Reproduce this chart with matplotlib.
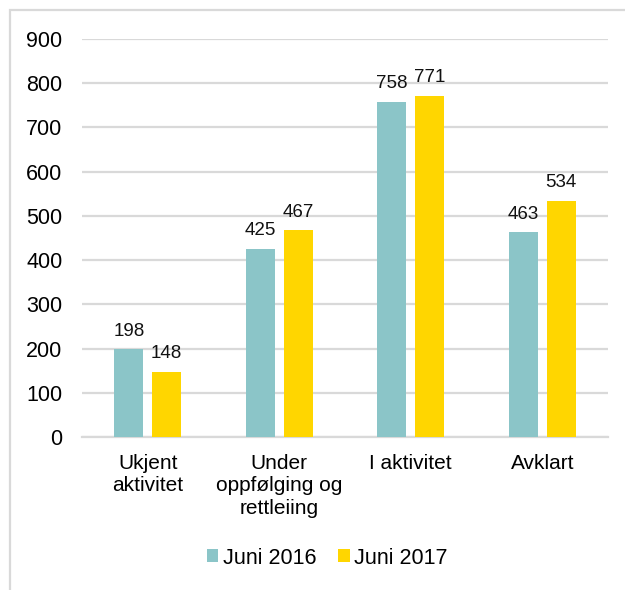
import numpy as np
import matplotlib
matplotlib.use("Agg")
import matplotlib.pyplot as plt
from matplotlib.patches import Rectangle

# data
categories = ["Ukjent\naktivitet", "Under\noppfølging og\nrettleiing", "I aktivitet", "Avklart"]
juni_2016 = [198, 425, 758, 463]
juni_2017 = [148, 467, 771, 534]
series_names = ["Juni 2016", "Juni 2017"]

TEAL = "#8BC5C8"
YELLOW = "#FFD600"
GRID = "#D9D9D9"

plt.rcParams["font.family"] = ["Liberation Sans", "DejaVu Sans"]

fig = plt.figure(figsize=(6.25, 5.9), dpi=100)
ax = fig.add_axes([82 / 625, 1 - 437 / 590, 526 / 625, 398 / 590])

x = np.arange(len(categories))
w = 0.223
off = 0.144
b1 = ax.bar(x - off, juni_2016, width=w, color=TEAL, label=series_names[0], zorder=3)
b2 = ax.bar(x + off, juni_2017, width=w, color=YELLOW, label=series_names[1], zorder=3)

for bars in (b1, b2):
    ax.bar_label(bars, padding=7, fontsize=13.5, color="#111111")

ax.set_xlim(-0.5, len(categories) - 0.5)
ax.set_ylim(0, 900)
ax.set_yticks(range(0, 901, 100))
ax.yaxis.grid(True, color=GRID, linewidth=1.6, zorder=0)
ax.set_axisbelow(True)
for s in ["top", "right", "left"]:
    ax.spines[s].set_visible(False)
ax.spines["bottom"].set_color(GRID)
ax.spines["bottom"].set_linewidth(1.6)

ax.set_xticks(x)
ax.set_xticklabels(categories, fontsize=15, linespacing=1.25)
ax.tick_params(axis="x", length=0, pad=12)
ax.tick_params(axis="y", length=0, pad=14, labelsize=15.5)

fig.legend(loc="center", bbox_to_anchor=(327 / 625, 1 - 558 / 590), ncol=2,
           frameon=False, fontsize=15.5, handlelength=0.55, handleheight=0.55,
           handletextpad=0.2, columnspacing=1.0)

# light frame around the chart area (cut off at right and bottom)
fig.patches.append(Rectangle((10 / 625, -0.1), 1.2, 1.1 - 10 / 590,
                             transform=fig.transFigure, fill=False,
                             edgecolor=GRID, linewidth=1.6))

fig.savefig("out.png", dpi=100)
